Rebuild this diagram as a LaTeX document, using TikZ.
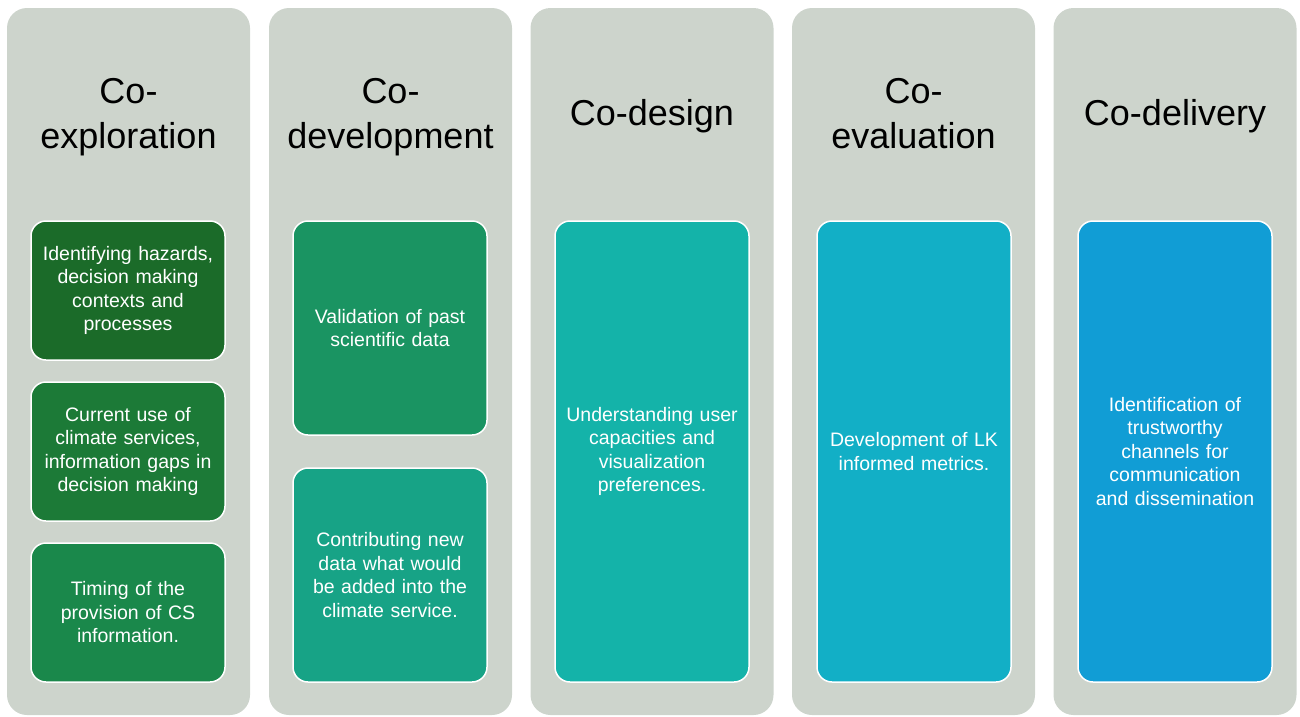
\documentclass[tikz,border=0pt]{standalone}
\usepackage{fontspec}
\setmainfont{Liberation Sans}
\usepackage{xcolor}
\usepackage{tikz}

\definecolor{stagegrey}{HTML}{CDD4CC}
\definecolor{greenA}{HTML}{1B6B29}
\definecolor{greenB}{HTML}{1C7A37}
\definecolor{greenC}{HTML}{1A884B}
\definecolor{greenD}{HTML}{1A9462}
\definecolor{tealA}{HTML}{17A386}
\definecolor{tealB}{HTML}{14B3A9}
\definecolor{cyanA}{HTML}{12AFC6}
\definecolor{blueA}{HTML}{119DD5}

\begin{document}
\begin{tikzpicture}[x=1pt, y=-1pt]
    \tikzstyle{stage} = [rectangle, rounded corners=20pt, minimum width=243pt, minimum height=707pt, inner sep=0pt, outer sep=0pt, fill=stagegrey]
    \tikzstyle{title} = [align=center, text height=26pt, text depth=8pt, font=\fontsize{36}{45}\selectfont]
    \tikzstyle{activity} = [rectangle, rounded corners=15pt, minimum width=194pt, text width=190pt, align=center, inner sep=0pt, draw=white, line width=1.5pt, text=white, font=\fontsize{19.5}{23.5}\selectfont]

    \useasboundingbox (0,0) rectangle (1300,716);

    % Stages
    \node [stage] (exploration) at (128.5,361.5) {};
    \node [stage] (development) at (390.5,361.5) {};
    \node [stage] (design) at (652,361.5) {};
    \node [stage] (evaluation) at (913.5,361.5) {};
    \node [stage] (delivery) at (1175,361.5) {};

    % Titles
    \node [title] (exploration_title) at (128.5,139) {Co-\\exploration};
    \node [title] (development_title) at (390.5,139) {Co-\\development};
    \node [title] (design_title) at (652,116) {Co-design};
    \node [title] (evaluation_title) at (913.5,139) {Co-\\evaluation};
    \node [title] (delivery_title) at (1175,116) {Co-delivery};

    % Co-exploration activities
    \node [activity, fill=greenA, minimum height=139pt] (hazards) at (128,290.5) {Identifying hazards,\\decision making\\contexts and\\processes};
    \node [activity, fill=greenB, minimum height=139pt] (current_use) at (128,451.5) {Current use of\\climate services,\\information gaps in\\decision making};
    \node [activity, fill=greenC, minimum height=139pt] (timing) at (128,612.5) {Timing of the\\provision of CS\\information.};

    % Co-development activities
    \node [activity, fill=greenD, minimum height=214pt] (validation) at (390,328) {Validation of past\\scientific data};
    \node [activity, fill=tealA, minimum height=214pt] (new_data) at (390,575) {Contributing new\\data what would\\be added into the\\climate service.};

    % Co-design, co-evaluation, co-delivery activities
    \node [activity, fill=tealB, minimum height=461pt] (capacities) at (652,451.5) {Understanding user\\capacities and\\visualization\\preferences.};
    \node [activity, fill=cyanA, minimum height=461pt] (metrics) at (914,451.5) {Development of LK\\informed metrics.};
    \node [activity, fill=blueA, minimum height=461pt] (channels) at (1175,451.5) {Identification of\\trustworthy\\channels for\\communication\\and dissemination};
\end{tikzpicture}
\end{document}
